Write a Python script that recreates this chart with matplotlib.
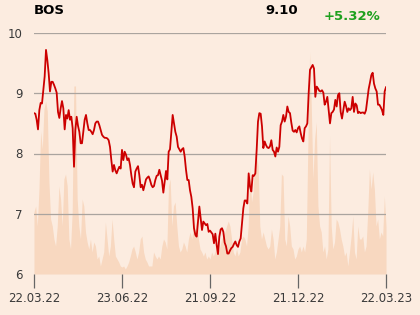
import matplotlib.pyplot as plt
import numpy as np

ticker_name = "BOS"
last_price = "9.10"
change = "+5.32%"
date_labels = ["22.03.22", "23.06.22", "21.09.22", "21.12.22", "22.03.23"]

# Schlusskurse (geschätzt aus dem Bild)
price = [
    8.67, 8.66, 8.56, 8.40, 8.72, 8.84, 8.83, 9.05, 9.28, 9.72, 9.55, 9.33, 9.03, 9.19, 9.19, 9.14,
    9.08, 9.01, 8.69, 8.59, 8.75, 8.87, 8.75, 8.40, 8.64, 8.58, 8.72, 8.56, 8.61, 8.42, 7.78, 8.39,
    8.61, 8.46, 8.36, 8.17, 8.17, 8.36, 8.56, 8.64, 8.50, 8.39, 8.39, 8.36, 8.32, 8.39, 8.50, 8.53,
    8.53, 8.47, 8.39, 8.31, 8.28, 8.26, 8.26, 8.25, 8.22, 8.11, 7.89, 7.70, 7.81, 7.72, 7.67, 7.73,
    7.78, 7.75, 8.06, 7.89, 8.03, 7.98, 7.89,
    7.92, 7.81, 7.64, 7.50, 7.44, 7.70, 7.75, 7.79, 7.64, 7.44, 7.48, 7.39, 7.48, 7.57, 7.60, 7.62,
    7.56, 7.48, 7.44, 7.46, 7.56, 7.63, 7.64, 7.73, 7.64, 7.55, 7.35, 7.53, 7.71, 7.57, 8.03, 8.07,
    8.36, 8.64, 8.50, 8.36, 8.28, 8.11, 8.07, 8.03, 8.07, 8.09, 7.95, 7.73, 7.56, 7.56, 7.39, 7.28,
    7.09, 6.76, 6.65, 6.62, 6.87, 7.12, 6.92, 6.73, 6.87, 6.84, 6.81, 6.83, 6.70, 6.72, 6.69, 6.66,
    6.51, 6.67, 6.48, 6.33,
    6.62, 6.74, 6.76, 6.70, 6.52, 6.46, 6.34, 6.34, 6.39, 6.43, 6.45, 6.50, 6.54, 6.48, 6.45, 6.54,
    6.59, 6.84, 7.09, 7.22, 7.22, 7.17, 7.67, 7.45, 7.37, 7.64, 7.63, 7.67, 8.06, 8.53, 8.67, 8.66,
    8.45, 8.09, 8.20, 8.14, 8.10, 8.09, 8.12, 8.22, 8.06, 8.03, 7.95, 8.10, 8.03, 8.11, 8.47, 8.53,
    8.64, 8.53, 8.61, 8.78, 8.69, 8.67, 8.51, 8.38, 8.36, 8.39, 8.35, 8.42, 8.45, 8.34, 8.25, 8.20,
    8.42, 8.45, 8.50, 9.00,
    9.39, 9.43, 9.47, 9.41, 8.94, 9.11, 9.08, 9.04, 9.03, 9.05, 9.01, 8.81, 8.86, 8.94, 8.72, 8.50,
    8.67, 8.69, 8.73, 8.89, 8.78, 8.97, 9.00, 8.69, 8.58, 8.72, 8.86, 8.79, 8.69, 8.75, 8.72, 8.75,
    8.94, 8.69, 8.83, 8.80, 8.67, 8.69, 8.67, 8.68, 8.68, 8.66, 8.72, 8.89, 9.07, 9.18, 9.30, 9.34,
    9.16, 9.08, 9.03, 8.81, 8.81, 8.77, 8.72, 8.64, 9.03, 9.10,
]

# Umsatz (relative Einheiten, geschätzt)
volume = [
    62, 68, 48, 85, 143, 125, 165, 173, 163, 92, 55, 48, 35, 28, 48, 88, 75, 48, 95, 100, 88, 35,
    25, 62, 188, 188, 75, 48, 35, 75, 68, 42, 32, 25, 35, 22, 32, 28, 15, 18, 8, 15, 22, 52, 35,
    18, 28, 55, 35, 18, 15, 12, 8, 7, 8, 5, 8, 12, 18, 25, 28, 22, 15, 22, 35, 38, 22, 15, 12, 8, 8,
    8, 22, 18, 15, 18, 15, 28, 35, 32, 25, 88, 95, 48, 68, 72, 48, 28, 22, 25, 32, 28, 22, 35, 42,
    35, 48, 42, 55, 35, 25, 22, 18, 22, 15, 18, 15, 22, 18, 22, 28, 22, 28, 35, 38, 42, 48, 53, 48,
    35, 22, 18, 25, 18, 22, 35, 38, 35, 28, 48, 108, 72, 82, 122, 118, 108, 48, 35, 42, 35, 28, 25,
    28, 45, 35, 15, 22, 35, 48, 100, 98, 35, 28, 58, 48, 28, 25, 15, 18, 25, 28, 22, 28, 22, 35,
    135, 222, 168, 95, 135, 152, 68, 48, 42, 22, 28, 15, 25, 138, 48, 25, 32, 55, 52, 45, 35, 28,
    18, 22, 8, 22, 38, 58, 22, 15, 48, 35, 35, 38, 22, 28, 62, 105, 85, 102, 85, 48, 55, 35, 42, 38,
    78, 48,
]

bg = "#fcece0"
fig = plt.figure(figsize=(4.2, 3.15), dpi=100, facecolor=bg)
ax = fig.add_axes([34 / 420, 41 / 315, 352 / 420, 241 / 315])
ax.set_facecolor(bg)

n = len(price)
x = np.arange(n)

# Umsatz als Fläche im Hintergrund
axv = ax.twinx()
axv.fill_between(np.linspace(0, n - 1, len(volume)), 0, volume, color="#f8d8c0", lw=0)
axv.set_ylim(0, 241)
axv.set_yticks([])
for s in axv.spines.values():
    s.set_visible(False)

ax.set_zorder(axv.get_zorder() + 1)
ax.patch.set_visible(False)
axv.patch.set_facecolor(bg)
axv.patch.set_visible(True)

ax.plot(x, price, color="#cc0000", linewidth=1.3)

ax.set_xlim(0, n - 1)
ax.set_ylim(6, 10)
ax.set_yticks([6, 7, 8, 9, 10])
ax.set_xticks(np.linspace(0, n - 1, len(date_labels)))
ax.set_xticklabels(date_labels)

# Gitterlinien nur ab 7
for v in [7, 8, 9, 10]:
    ax.axhline(v, color="#aaa49f", linewidth=0.9, zorder=0.5)

for s in ["top", "right", "left", "bottom"]:
    ax.spines[s].set_visible(False)
ax.tick_params(axis="y", length=0, pad=8, labelsize=8.5, labelcolor="#3a3a3a")
ax.tick_params(axis="x", length=10, width=0.9, color="#666666", pad=3, labelsize=8.5, labelcolor="#3a3a3a")

fig.text(34 / 420, 1 - 11 / 315, ticker_name, fontsize=9.5, fontweight="bold", va="center", ha="left")
fig.text(298 / 420, 1 - 10 / 315, last_price, fontsize=9.5, fontweight="bold", va="center", ha="right")
fig.text(380 / 420, 1 - 16 / 315, change, fontsize=9.5, fontweight="bold", color="#1ea01e", va="center", ha="right")

plt.savefig("out.png", dpi=100, facecolor=bg)
